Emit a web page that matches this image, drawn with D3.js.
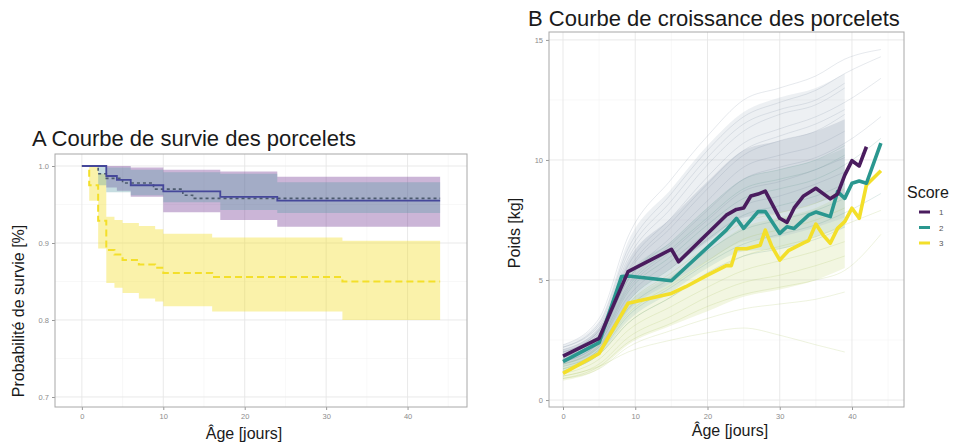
<html>
<head>
<meta charset="utf-8">
<script src="https://cdn.jsdelivr.net/npm/d3@7"></script>
<style>
  body { margin: 0; background: #fff; }
  text { font-family: "Liberation Sans", Arial, sans-serif; }
</style>
</head>
<body>
<script>
// ---------- panel A : survival (Kaplan-Meier steps + confidence bands) ----------
var survTicksX = [0, 10, 20, 30, 40];
var survTicksY = [0.7, 0.8, 0.9, 1.0];

// score 1 (solid)
var s1Time = [0, 3, 4.3, 6, 10, 17, 24, 44];
var s1Surv = [1, 0.987, 0.982, 0.975, 0.967, 0.960, 0.955, 0.955];
var s1BandTime = [0, 3, 4.3, 6, 10, 17, 24, 44];
var s1Upper = [1, 1, 1, 0.998, 0.995, 0.993, 0.986, 0.986];
var s1Lower = [1, 0.972, 0.968, 0.960, 0.940, 0.930, 0.921, 0.921];

// score 2 (dotted)
var s2Time = [0, 2, 3, 5, 8.8, 12.4, 13.6, 44];
var s2Surv = [1, 0.990, 0.984, 0.978, 0.970, 0.962, 0.958, 0.958];
var s2BandTime = [0, 2, 3, 6, 10, 17, 24, 44];
var s2Upper = [1, 1, 0.998, 0.995, 0.992, 0.990, 0.979, 0.979];
var s2Lower = [1, 0.975, 0.966, 0.962, 0.953, 0.943, 0.939, 0.939];

// score 3 (dashed yellow)
var s3Time = [0, 0.9, 2, 3, 4, 5, 7, 9, 10, 16, 32, 44];
var s3Surv = [1, 0.975, 0.929, 0.891, 0.885, 0.878, 0.872, 0.868, 0.861, 0.856, 0.850, 0.850];
var s3BandTime = [0, 0.9, 2, 3, 4, 5, 7, 9, 10, 16, 32, 44];
var s3Upper = [1, 1, 0.99, 0.934, 0.930, 0.926, 0.922, 0.918, 0.912, 0.907, 0.903, 0.903];
var s3Lower = [1, 0.955, 0.893, 0.848, 0.842, 0.835, 0.828, 0.824, 0.818, 0.811, 0.800, 0.800];

// ---------- panel B : growth curves ----------
var growTicksX = [0, 10, 20, 30, 40];
var growTicksY = [0, 5, 10, 15];
var scores = ["1", "2", "3"];

var g1Day = [0, 5, 9, 15, 16, 22.6, 24, 25, 26, 27, 28, 30, 31, 32, 33.3, 35, 37, 38, 39, 40, 41, 42];
var g1Kg  = [1.83, 2.57, 5.35, 6.28, 5.76, 7.7, 7.94, 8.0, 8.5, 8.58, 8.7, 7.57, 7.4, 8.0, 8.5, 8.82, 8.38, 8.58, 9.37, 9.97, 9.75, 10.55];
var g2Day = [0, 5, 8.1, 9, 15, 22.6, 24, 25, 27, 28, 30, 31, 32, 34, 35, 37, 38, 39, 40, 41, 42, 44];
var g2Kg  = [1.6, 2.39, 5.14, 5.17, 4.97, 7.08, 7.57, 7.15, 7.85, 7.85, 6.94, 7.22, 7.15, 7.7, 7.83, 7.64, 8.68, 8.4, 9.03, 9.12, 9.03, 10.7];
var g3Day = [0, 5, 9, 15, 17, 20, 22.6, 23.3, 24, 25.4, 27.3, 28, 28.9, 30, 31.2, 33.3, 34, 35, 36, 37, 38, 39, 40, 41, 42, 44];
var g3Kg  = [1.11, 1.94, 4.03, 4.44, 4.72, 5.2, 5.6, 5.6, 6.3, 6.3, 6.45, 7.08, 6.4, 5.83, 6.22, 6.55, 6.64, 7.33, 6.87, 6.53, 7.15, 7.43, 7.99, 7.57, 8.96, 9.55];

// individual piglets, read roughly from the fan (days below)
var pigDays = [0, 5, 9, 15, 20, 25, 30, 35, 39, 44];
var pigs1 = [
  [2.3, 3.4, 6.8, 9.2, 11.0, 12.5, 13.0, 13.5, 14.2, 14.6],
  [2.2, 3.2, 6.3, 8.6, 10.4, 11.8, 12.4, 12.9, 13.6, 14.3],
  [2.2, 3.1, 6.1, 8.3, 10.1, 11.5, 12.1, 12.5, 13.2, null],
  [2.1, 3.0, 5.9, 8.0, 9.8, 11.2, 11.9, 12.3, 13.0, null],
  [2.0, 2.9, 5.6, 7.6, 9.3, 10.7, 11.3, 11.8, 12.4, 13.4],
  [2.0, 2.9, 5.4, 7.4, 9.0, 10.4, 11.0, 11.5, 12.1, null],
  [1.9, 2.8, 5.3, 7.2, 8.8, 10.2, 10.8, 11.2, 11.9, null],
  [1.9, 2.7, 5.0, 6.8, 8.3, 9.7, 10.2, 10.6, 11.2, null],
  [1.8, 2.6, 4.8, 6.5, 7.9, 9.2, 9.7, 10.1, 10.7, 11.8],
  [1.7, 2.5, 4.6, 6.2, 7.5, 8.7, 9.1, 9.6, 10.1, null],
  [1.6, 2.4, 4.3, 5.8, 7.0, 8.1, 8.5, 9.0, 9.5, null]
];
var pigs2 = [
  [1.8, 2.6, 5.0, 6.6, 8.0, 9.2, 9.6, 10.0, 10.6, null],
  [1.7, 2.5, 4.7, 6.3, 7.6, 8.8, 9.2, 9.6, 10.2, null],
  [1.6, 2.4, 4.5, 6.0, 7.3, 8.4, 8.8, 9.2, 9.8, 10.9],
  [1.5, 2.2, 4.1, 5.5, 6.7, 7.7, 8.1, 8.5, 9.0, null],
  [1.4, 2.1, 3.8, 5.1, 6.2, 7.1, 7.5, 7.9, 8.4, null],
  [1.3, 2.0, 3.5, 4.7, 5.7, 6.5, 6.9, 7.3, 7.8, 8.6],
  [1.2, 1.9, 3.2, 4.3, 5.3, 6.0, 6.3, 6.7, 7.2, null]
];
var pigs3 = [
  [1.5, 2.3, 4.0, 5.3, 6.4, 7.4, 7.8, 8.2, 8.8, null],
  [1.3, 2.1, 3.6, 4.8, 5.8, 6.7, 7.1, 7.5, 8.0, null],
  [1.2, 1.9, 3.2, 4.3, 5.2, 6.0, 6.4, 6.8, 7.3, 7.9],
  [1.1, 1.7, 2.9, 3.9, 4.7, 5.4, 5.8, 6.2, 6.6, null],
  [1.0, 1.5, 2.6, 3.5, 4.3, 4.9, 5.2, 5.6, 6.0, null],
  [0.9, 1.4, 2.4, 3.2, 3.9, 4.4, 4.7, 5.0, 5.4, 6.9],
  [0.9, 1.3, 2.2, 2.9, 3.4, 3.8, 4.0, 4.2, 4.5, null],
  [1.0, 1.4, 2.0, 2.5, 2.8, 3.0, 2.7, 2.3, 2.0, null]
];

// density envelopes of the fan (days 0..39): outer faint, inner dense
var fanDays = [0, 5, 9, 15, 20, 25, 30, 35, 39];
var fan1OutLo = [1.4, 2.0, 3.7, 4.9, 5.8, 6.6, 6.8, 7.2, 7.6];
var fan1OutHi = [2.3, 3.3, 6.6, 8.8, 10.6, 12.0, 12.6, 13.0, 13.6];
var fan1Lo = [1.5, 2.2, 4.1, 5.5, 6.6, 7.6, 7.8, 8.2, 8.6];
var fan1Hi = [2.1, 3.0, 5.8, 7.6, 9.1, 10.4, 10.8, 11.2, 11.7];
var fan2Lo = [1.2, 1.9, 3.3, 4.5, 5.5, 6.2, 6.3, 6.8, 7.2];
var fan2Hi = [1.9, 2.7, 5.2, 6.6, 8.0, 9.2, 9.6, 10.0, 10.5];
var fan3Lo = [0.8, 1.3, 2.3, 3.1, 3.7, 4.3, 4.6, 5.0, 5.5];
var fan3Hi = [1.5, 2.3, 4.0, 5.2, 6.2, 7.2, 7.6, 8.0, 8.6];

var colPurple = "#4a1c5e", colTeal = "#2a978f", colYellow = "#f3df2a";

var svg = d3.select("body").append("svg").attr("width", 953).attr("height", 444);
svg.append("rect").attr("width", 953).attr("height", 444).attr("fill", "#fff");

function frame(x, y, ticksX, ticksY, fmt) {
  var g = svg.append("g");
  var x0 = x.range()[0], x1 = x.range()[1], y0 = y.range()[0], y1 = y.range()[1];
  var stepX = ticksX[1] - ticksX[0], stepY = ticksY[1] - ticksY[0];
  var minX = ticksX.map(function(d) { return d + stepX / 2; }).concat([ticksX[0] - stepX / 2])
    .filter(function(d) { return d > x.domain()[0] && d < x.domain()[1]; });
  var minY = ticksY.map(function(d) { return d + stepY / 2; }).concat([ticksY[0] - stepY / 2])
    .filter(function(d) { return d > y.domain()[0] && d < y.domain()[1]; });
  g.selectAll(".mx").data(minX).enter().append("line")
    .attr("x1", x).attr("x2", x).attr("y1", y0).attr("y2", y1)
    .attr("stroke", "#f3f3f3").attr("stroke-width", 0.6);
  g.selectAll(".my").data(minY).enter().append("line")
    .attr("y1", y).attr("y2", y).attr("x1", x0).attr("x2", x1)
    .attr("stroke", "#f3f3f3").attr("stroke-width", 0.6);
  g.selectAll(".gx").data(ticksX).enter().append("line")
    .attr("x1", x).attr("x2", x).attr("y1", y0).attr("y2", y1)
    .attr("stroke", "#e6e6e6").attr("stroke-width", 0.9);
  g.selectAll(".gy").data(ticksY).enter().append("line")
    .attr("y1", y).attr("y2", y).attr("x1", x0).attr("x2", x1)
    .attr("stroke", "#e6e6e6").attr("stroke-width", 0.9);

  var ax = svg.append("g").attr("transform", "translate(0," + y0 + ")")
    .call(d3.axisBottom(x).tickValues(ticksX).tickSize(3).tickPadding(4));
  var ay = svg.append("g").attr("transform", "translate(" + x0 + ",0)")
    .call(d3.axisLeft(y).tickValues(ticksY).tickFormat(fmt).tickSize(3).tickPadding(3));
  [ax, ay].forEach(function(a) {
    a.select(".domain").remove();
    a.selectAll("line").attr("stroke", "#999");
    a.selectAll("text").attr("fill", "#8c8c8c").style("font-size", "7.5px")
      .style("font-family", '"Liberation Sans", Arial, sans-serif');
  });
  return g;
}

function border(x, y) {
  svg.append("rect")
    .attr("x", x.range()[0]).attr("y", y.range()[1])
    .attr("width", x.range()[1] - x.range()[0]).attr("height", y.range()[0] - y.range()[1])
    .attr("fill", "none").attr("stroke", "#a8a8a8").attr("stroke-width", 1);
}

// ---------- draw panel A ----------
var xA = d3.scaleLinear().domain([-3.3, 47.3]).range([55, 467]);
var yA = d3.scaleLinear().domain([0.687, 1.0156]).range([407, 154]);
frame(xA, yA, survTicksX, survTicksY, d3.format(".1f"));

function band(t, up, lo, fill, op) {
  var pts = t.map(function(d, i) { return { t: d, u: up[i], l: lo[i] }; });
  svg.append("path").datum(pts)
    .attr("d", d3.area().curve(d3.curveStepAfter)
      .x(function(d) { return xA(d.t); })
      .y0(function(d) { return yA(d.l); })
      .y1(function(d) { return yA(d.u); }))
    .attr("fill", fill).attr("fill-opacity", op);
}
function step(t, s, col, w, dash) {
  var pts = t.map(function(d, i) { return [d, s[i]]; });
  svg.append("path").datum(pts)
    .attr("d", d3.line().curve(d3.curveStepAfter)
      .x(function(d) { return xA(d[0]); }).y(function(d) { return yA(d[1]); }))
    .attr("fill", "none").attr("stroke", col).attr("stroke-width", w)
    .attr("stroke-dasharray", dash);
}
band(s3BandTime, s3Upper, s3Lower, colYellow, 0.4);
band(s1BandTime, s1Upper, s1Lower, "#6a2c8c", 0.35);
band(s2BandTime, s2Upper, s2Lower, "#5a9aa6", 0.35);
step(s3Time, s3Surv, colYellow, 2, "7,4");
step(s2Time, s2Surv, "#4c5a6e", 1.6, "3,3");
step(s1Time, s1Surv, "#45479a", 1.8, null);
border(xA, yA);

svg.append("text").attr("x", 32).attr("y", 146).style("font-size", "22px").attr("fill", "#1a1a1a")
  .text("A Courbe de survie des porcelets");
svg.append("text").attr("transform", "translate(24,311) rotate(-90)").attr("text-anchor", "middle")
  .style("font-size", "16px").attr("fill", "#1a1a1a").text("Probabilité de survie [%]");
svg.append("text").attr("x", 244).attr("y", 439).attr("text-anchor", "middle")
  .style("font-size", "16px").attr("fill", "#1a1a1a").text("Âge [jours]");

// ---------- draw panel B ----------
var xB = d3.scaleLinear().domain([-1.94, 47.2]).range([549, 904]);
var yB = d3.scaleLinear().domain([-0.29, 15.33]).range([407, 32]);
frame(xB, yB, growTicksX, growTicksY, d3.format("d"));

var fanArea = d3.area().curve(d3.curveMonotoneX)
  .x(function(d) { return xB(d.t); })
  .y0(function(d) { return yB(d.l); })
  .y1(function(d) { return yB(d.h); });
function fan(lo, hi, fill, op) {
  var pts = fanDays.map(function(d, i) { return { t: d, l: lo[i], h: hi[i] }; });
  svg.append("path").datum(pts).attr("d", fanArea).attr("fill", fill).attr("fill-opacity", op);
}
fan(fan3Lo, fan3Hi, "#d3e29a", 0.3);
fan(fan1OutLo, fan1OutHi, "#a7b3c2", 0.2);
fan(fan2Lo, fan2Hi, "#8cbab4", 0.22);
fan(fan1Lo, fan1Hi, "#8f9db0", 0.25);

var pigLine = d3.line().curve(d3.curveMonotoneX)
  .defined(function(d) { return d[1] != null; })
  .x(function(d) { return xB(d[0]); }).y(function(d) { return yB(d[1]); });
function pigs(set, col) {
  set.forEach(function(p) {
    svg.append("path").datum(pigDays.map(function(d, i) { return [d, p[i]]; }))
      .attr("d", pigLine).attr("fill", "none").attr("stroke", col)
      .attr("stroke-width", 0.7).attr("stroke-opacity", 0.28);
  });
}
pigs(pigs3, "#a9c25a");
pigs(pigs2, "#5f958f");
pigs(pigs1, "#7d8da0");

var meanLine = d3.line().x(function(d) { return xB(d[0]); }).y(function(d) { return yB(d[1]); });
[[g3Day, g3Kg, colYellow], [g2Day, g2Kg, colTeal], [g1Day, g1Kg, colPurple]].forEach(function(s) {
  svg.append("path").datum(s[0].map(function(d, i) { return [d, s[1][i]]; }))
    .attr("d", meanLine).attr("fill", "none").attr("stroke", s[2])
    .attr("stroke-width", 3.6).attr("stroke-linejoin", "round");
});
border(xB, yB);

svg.append("text").attr("x", 528).attr("y", 26).style("font-size", "22px").attr("fill", "#1a1a1a")
  .text("B Courbe de croissance des porcelets");
svg.append("text").attr("transform", "translate(520,233) rotate(-90)").attr("text-anchor", "middle")
  .style("font-size", "16px").attr("fill", "#1a1a1a").text("Poids [kg]");
svg.append("text").attr("x", 730).attr("y", 436).attr("text-anchor", "middle")
  .style("font-size", "16px").attr("fill", "#1a1a1a").text("Âge [jours]");

// legend
var legCols = [colPurple, colTeal, colYellow];
svg.append("text").attr("x", 907).attr("y", 198).style("font-size", "16px").attr("fill", "#1a1a1a").text("Score");
var leg = svg.selectAll(".leg").data(scores).enter().append("g")
  .attr("transform", function(d, i) { return "translate(0," + (212 + i * 15.5) + ")"; });
leg.append("line").attr("x1", 919).attr("x2", 930).attr("y1", 0).attr("y2", 0)
  .attr("stroke", function(d, i) { return legCols[i]; }).attr("stroke-width", 3);
leg.append("text").attr("x", 939).attr("y", 3).style("font-size", "8px").attr("fill", "#555")
  .text(function(d) { return d; });
</script>
</body>
</html>
